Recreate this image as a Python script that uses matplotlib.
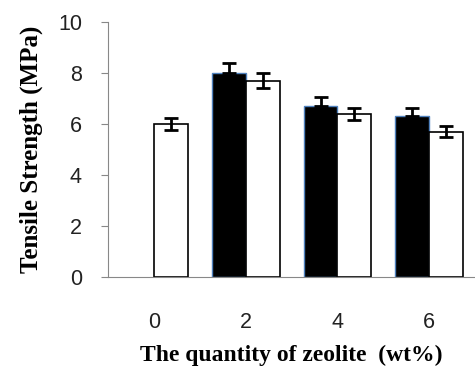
import numpy as np
import matplotlib
matplotlib.use('Agg')
import matplotlib.pyplot as plt

# zeolite content groups
labels = ['0', '2', '4', '6']
# dark series (no value at 0 wt%)
black_vals = [np.nan, 8.0, 6.7, 6.3]
black_err = [0, 0.4, 0.35, 0.34]
# white series
white_vals = [6.0, 7.7, 6.4, 5.7]
white_err = [0.22, 0.29, 0.24, 0.22]

fig = plt.figure(figsize=(4.75, 3.67), dpi=100)
ax = fig.add_axes([0.228, 0.245, 0.772, 0.695])

x = np.arange(len(labels))
w = 0.37

# black bars with error bars pointing up only
for i in range(len(x)):
    if np.isnan(black_vals[i]):
        continue
    ax.bar(x[i] - w / 2, black_vals[i], w, color='black', edgecolor='#4F81BD', linewidth=1.0, zorder=2)
    ax.errorbar(x[i] - w / 2, black_vals[i], yerr=[[0], [black_err[i]]], fmt='none',
                ecolor='black', elinewidth=2, capsize=5, capthick=2, zorder=3)

ax.bar(x + w / 2, white_vals, w, color='white', edgecolor='black', linewidth=1.2, zorder=2)
ax.errorbar(x + w / 2, white_vals, yerr=white_err, fmt='none',
            ecolor='black', elinewidth=2, capsize=5, capthick=2, zorder=3)

ax.set_xlim(-0.5, 3.5)
ax.set_ylim(0, 10)
ax.set_yticks([0, 2, 4, 6, 8, 10])
ax.set_xticks(x)
ax.set_xticklabels(labels)

for s in ['top', 'right']:
    ax.spines[s].set_visible(False)
ax.spines['left'].set_color('#888888')
ax.spines['bottom'].set_color('#888888')

ax.tick_params(axis='y', colors='#888888', length=5, labelsize=15.5, labelcolor='#222222', pad=14)
ax.tick_params(axis='x', length=0, labelsize=15.5, labelcolor='#222222', pad=25)
for t in ax.get_xticklabels() + ax.get_yticklabels():
    t.set_fontfamily('Liberation Sans')

ax.set_xlabel('The quantity of zeolite  (wt%)', fontfamily='Liberation Serif',
              fontweight='bold', fontsize=17, labelpad=9)
ax.set_ylabel('Tensile Strength (MPa)', fontfamily='Liberation Serif',
              fontweight='bold', fontsize=18, labelpad=11)

fig.savefig('out.png', dpi=100)
